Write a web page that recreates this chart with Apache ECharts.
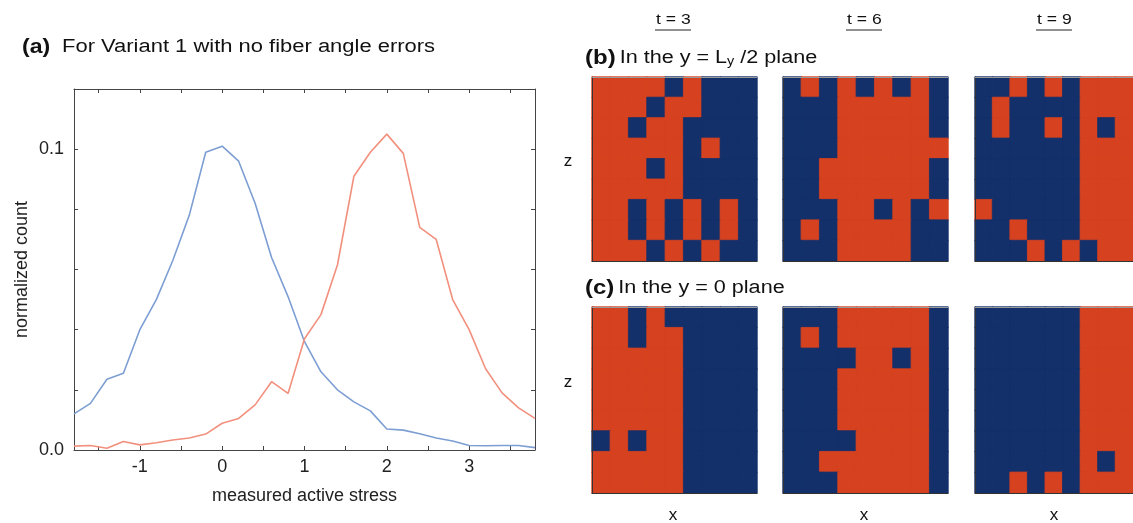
<!DOCTYPE html>
<html>
<head>
<meta charset="utf-8">
<script src="https://cdn.jsdelivr.net/npm/echarts@6/dist/echarts.min.js"></script>
<style>
  html, body { margin: 0; padding: 0; background: #fff; }
  #chart { width: 1133px; height: 523px; }
</style>
</head>
<body>
<div id="chart"></div>
<script>
// (a) distribution of measured active stress
const stress = [-1.8, -1.6, -1.4, -1.2, -1.0, -0.8, -0.6, -0.4, -0.2, 0.0,
  0.2, 0.4, 0.6, 0.8, 1.0, 1.2, 1.4, 1.6, 1.8, 2.0,
  2.2, 2.4, 2.6, 2.8, 3.0, 3.2, 3.4, 3.6, 3.8]
const blueCount = [0.012, 0.0155, 0.0235, 0.0255, 0.040, 0.050, 0.063, 0.078, 0.099, 0.101,
  0.096, 0.082, 0.064, 0.051, 0.036, 0.026, 0.020, 0.016, 0.013, 0.007,
  0.0066, 0.0054, 0.004, 0.003, 0.0015, 0.0014, 0.0015, 0.0015, 0.0008]
const redCount = [0.0013, 0.0015, 0.0006, 0.0028, 0.0017, 0.0024, 0.0033, 0.004, 0.0053, 0.0089,
  0.0105, 0.015, 0.0227, 0.0188, 0.037, 0.045, 0.0615, 0.091, 0.099, 0.105,
  0.0986, 0.074, 0.070, 0.050, 0.040, 0.027, 0.019, 0.014, 0.0105]
const xTicks = [-1.5, -1, -0.5, 0, 0.5, 1, 1.5, 2, 2.5, 3, 3.5]
const xLabels = [-1, 0, 1, 2, 3]
const yLabels = [0, 0.1]

// (b)/(c) cell states, rows top to bottom, R = orange, B = blue
const cells = ['1', '2', '3', '4', '5', '6', '7', '8', '9']
const midPlaneT3 = ['RRRRBRBBB', 'RRRBRRBBB', 'RRBRRBBBB', 'RRRRRBRBB', 'RRRBRBBBB',
  'RRRRRBBBB', 'RRBRBRBRB', 'RRBRBRBRB', 'RRRBRBRBB']
const midPlaneT6 = ['BRBRBRBRB', 'BBBRRRRRB', 'BBBRRRRRB', 'BBBRRRRRR', 'BBRRRRRRB',
  'BBRRRRRRB', 'BBBRRBRBR', 'BRBRRRRBB', 'BBBRRRRBB']
const midPlaneT9 = ['BBRBRBRRR', 'BRBBBBRRR', 'BRBBRBRBR', 'BBBBBBRRR', 'BBBBBBRRR',
  'BBBBBBRRR', 'RBBBBBRRR', 'BBRBBBRRR', 'BBBRBRBRR']
const zeroPlaneT3 = ['RRBRBBBBB', 'RRBRRBBBB', 'RRRRRBBBB', 'RRRRRBBBB', 'RRRRRBBBB',
  'RRRRRBBBB', 'BRBRRBBBB', 'RRRRRBBBB', 'RRRRRBBBB']
const zeroPlaneT6 = ['BBBRRRRRB', 'BRBRRRRRB', 'BBBBRRBRB', 'BBBRRRRRB', 'BBBRRRRRB',
  'BBBRRRRRB', 'BBBBRRRRB', 'BBRRRRRRB', 'BBBRRRRRB']
const zeroPlaneT9 = ['BBBBBBRRR', 'BBBBBBRRR', 'BBBBBBRRR', 'BBBBBBRRR', 'BBBBBBRRR',
  'BBBBBBRRR', 'BBBBBBRRR', 'BBBBBBRBR', 'BBRBRBRRR']
const timeLabels = ['t = 3', 't = 6', 't = 9']

const FONT = '"Liberation Sans", Arial, sans-serif'
const ORANGE = '#d6411f'
const NAVY = '#13306b'
const AXIS = '#444'
const STRETCH = 1.2 // the original figure is a bit wider than tall

const chart = echarts.init(document.getElementById('chart'))

const toCells = rows => {
  const out = []
  rows.forEach((row, r) => {
    row.split('').forEach((ch, c) => {
      const col = ch === 'R' ? ORANGE : NAVY
      out.push({
        value: [c, r, ch === 'R' ? 1 : 0],
        itemStyle: { color: col, borderColor: col, borderWidth: 0.8 }
      })
    })
  })
  return out
}

const panels = [midPlaneT3, midPlaneT6, midPlaneT9, zeroPlaneT3, zeroPlaneT6, zeroPlaneT9]
const panelLeft = [592, 783, 975]
const panelTop = [77, 307]

const grids = [{ left: 74, top: 89, width: 461, height: 361 }]
const xAxes = [
  {
    type: 'value', gridIndex: 0, min: -1.8, max: 3.8,
    axisLine: { onZero: false, lineStyle: { color: AXIS } },
    axisTick: { inside: true, length: 4, customValues: xTicks, lineStyle: { color: AXIS } },
    axisLabel: { customValues: xLabels, color: '#222', fontSize: 18, fontFamily: FONT, margin: 8 },
    splitLine: { show: false },
    name: 'measured active stress', nameLocation: 'middle', nameGap: 37,
    nameTextStyle: { color: '#222', fontSize: 18, fontFamily: FONT }
  },
  {
    type: 'value', gridIndex: 0, position: 'top', min: -1.8, max: 3.8,
    axisLine: { onZero: false, lineStyle: { color: AXIS } },
    axisTick: { inside: true, length: 4, customValues: xTicks, lineStyle: { color: AXIS } },
    axisLabel: { show: false },
    splitLine: { show: false }
  }
]
const yAxes = [
  {
    type: 'value', gridIndex: 0, min: 0, max: 0.12, interval: 0.02,
    axisLine: { show: true, onZero: false, lineStyle: { color: AXIS } },
    axisTick: { show: true, inside: true, length: 4, lineStyle: { color: AXIS } },
    axisLabel: {
      customValues: yLabels, color: '#222', fontSize: 18, fontFamily: FONT, margin: 10,
      formatter: v => v.toFixed(1)
    },
    splitLine: { show: false },
    name: 'normalized count', nameLocation: 'middle', nameGap: 43,
    nameTextStyle: { color: '#222', fontSize: 18, fontFamily: FONT }
  },
  {
    type: 'value', gridIndex: 0, position: 'right', min: 0, max: 0.12, interval: 0.02,
    axisLine: { show: true, onZero: false, lineStyle: { color: AXIS } },
    axisTick: { show: true, inside: true, length: 4, lineStyle: { color: AXIS } },
    axisLabel: { show: false },
    splitLine: { show: false }
  }
]

const series = [
  {
    type: 'line', xAxisIndex: 0, yAxisIndex: 0, showSymbol: false, silent: true,
    lineStyle: { color: '#7d9ed3', width: 1.6 },
    data: stress.map((x, i) => [x, blueCount[i]])
  },
  {
    type: 'line', xAxisIndex: 0, yAxisIndex: 0, showSymbol: false, silent: true,
    lineStyle: { color: '#f2907e', width: 1.6 },
    data: stress.map((x, i) => [x, redCount[i]])
  }
]

panels.forEach((rows, p) => {
  const g = p + 1
  const axisIdx = xAxes.length
  grids.push({
    left: panelLeft[p % 3], top: panelTop[Math.floor(p / 3)], width: 165, height: p < 3 ? 184 : 186
  })
  xAxes.push({
    type: 'category', gridIndex: g, data: cells, z: 5,
    axisLine: { show: true, lineStyle: { color: '#333' } },
    axisTick: { show: false }, axisLabel: { show: false }, splitLine: { show: false }
  })
  xAxes.push({
    type: 'category', gridIndex: g, data: cells, position: 'top', z: 5,
    axisLine: { show: true, lineStyle: { color: '#999' } },
    axisTick: { show: false }, axisLabel: { show: false }, splitLine: { show: false }
  })
  yAxes.push({
    type: 'category', gridIndex: g, data: cells, inverse: true, z: 5,
    axisLine: { show: true, lineStyle: { color: '#333' } },
    axisTick: { show: false }, axisLabel: { show: false }, splitLine: { show: false }
  })
  series.push({
    type: 'heatmap', xAxisIndex: axisIdx, yAxisIndex: g + 1, silent: true,
    emphasis: { disabled: true },
    data: toCells(rows)
  })
})

const txt = (x, y, text, size, extra, scaleX) => ({
  type: 'text', x, y, silent: true, scaleX: scaleX || 1,
  style: Object.assign({ text, fontSize: size, fontFamily: FONT, fill: '#111', align: 'left', verticalAlign: 'middle' }, extra || {})
})

const graphic = [
  txt(22, 47, '(a)', 21, { fontWeight: 'bold' }, 1.1),
  txt(62, 47, 'For Variant 1 with no fiber angle errors', 18, {}, 1.22),
  {
    type: 'text', x: 585, y: 58, silent: true, scaleX: STRETCH,
    style: {
      text: '{h|(b)} {n|In the y = L}{s|y}{n| /2 plane}',
      fontFamily: FONT, fill: '#111', verticalAlign: 'middle',
      rich: {
        h: { fontSize: 20, fontWeight: 'bold', fontFamily: FONT, verticalAlign: 'bottom' },
        n: { fontSize: 18, fontFamily: FONT, verticalAlign: 'bottom', padding: [0, 0, 1, 0] },
        s: { fontSize: 12, fontFamily: FONT, verticalAlign: 'bottom' }
      }
    }
  },
  {
    type: 'text', x: 585, y: 288, silent: true, scaleX: STRETCH,
    style: {
      text: '{h|(c)} {n|In the y = 0 plane}',
      fontFamily: FONT, fill: '#111', verticalAlign: 'middle',
      rich: {
        h: { fontSize: 20, fontWeight: 'bold', fontFamily: FONT, verticalAlign: 'bottom' },
        n: { fontSize: 18, fontFamily: FONT, verticalAlign: 'bottom', padding: [0, 0, 1, 0] }
      }
    }
  },
  txt(568, 161, 'z', 17, { align: 'center' }),
  txt(568, 382, 'z', 17, { align: 'center' })
]

const panelCenters = [673, 864, 1054]
timeLabels.forEach((t, i) => {
  graphic.push(txt(panelCenters[i] - 17, 20, t, 15, {}, 1.17))
  graphic.push({
    type: 'line', silent: true,
    shape: { x1: panelCenters[i] - 18, y1: 30, x2: panelCenters[i] + 18, y2: 30 },
    style: { stroke: '#222', lineWidth: 1.2 }
  })
  graphic.push(txt(panelCenters[i], 515, 'x', 17, { align: 'center' }))
})

chart.setOption({
  animation: false,
  backgroundColor: '#fff',
  grid: grids,
  xAxis: xAxes,
  yAxis: yAxes,
  series,
  graphic
})

window.addEventListener('resize', () => {
  chart.resize()
})
</script>
</body>
</html>
